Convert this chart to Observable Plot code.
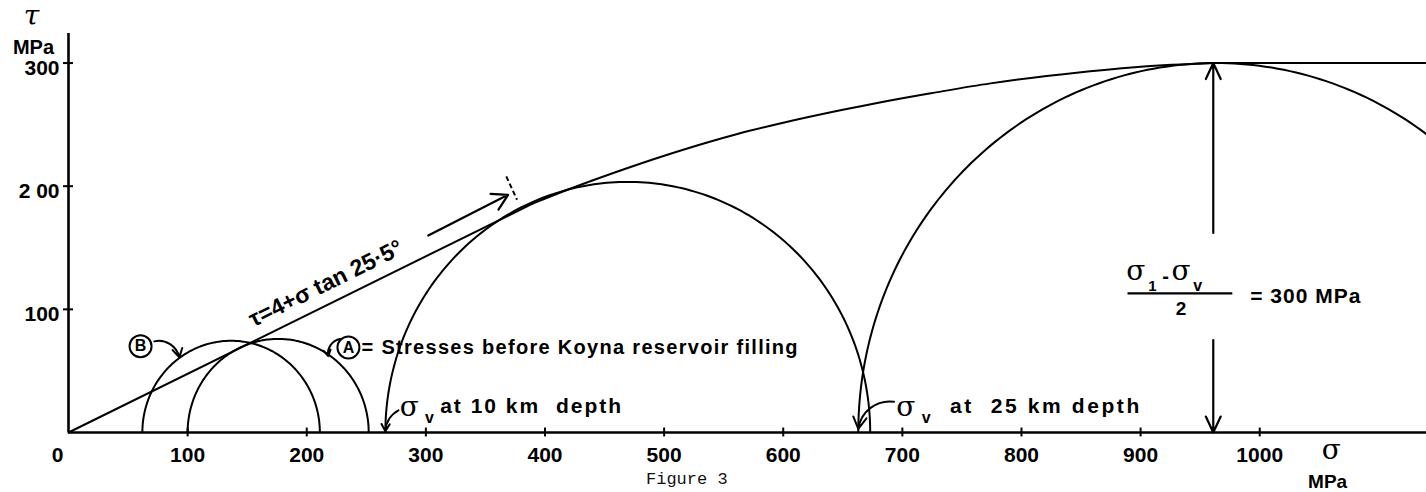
<!DOCTYPE html>
<html><head><meta charset="utf-8">
<script src="https://cdn.jsdelivr.net/npm/d3@7"></script>
<script src="https://cdn.jsdelivr.net/npm/@observablehq/plot@0.6"></script>
<style>
html,body{margin:0;padding:0;background:#fff;overflow:hidden;}
#wrap{position:relative;width:1426px;height:492px;}
#cap{position:absolute;left:646px;top:470px;font-family:"Liberation Mono","DejaVu Sans Mono",monospace;font-size:17px;line-height:20px;color:#111;white-space:nowrap;}
</style></head><body><div id="wrap"></div><script>
// Axis ticks
const xTicks = [0, 100, 200, 300, 400, 500, 600, 700, 800, 900, 1000];
const yTicks = [100, 200, 300];
const yTickLabels = ["100", "2 00", "300"];

// Mohr circles (sigma3, sigma1), MPa
const circleNames = ["B", "A", "10 km", "25 km"];
const circleSigma3 = [62, 100, 266, 663];
const circleSigma1 = [211, 252, 673, 1263];

// Failure envelope: straight part, curved part, flat part
const envLineSigma = [0, 390];
const envLineTau = [0, 186];
const envCurveSigma = [390, 420, 470, 514, 560, 600, 650, 700, 724, 774, 850, 900, 963];
const envCurveTau = [186, 197.5, 215, 229, 242, 251.5, 262, 271.5, 275.5, 283.5, 292.5, 297, 300];
const envFlatSigma = [963, 1140];
const envFlatTau = [300, 300];

// ---- build tables from the arrays ----
const circlePts = [];
circleNames.forEach((name, i) => {
  const c = (circleSigma3[i] + circleSigma1[i]) / 2, r = (circleSigma1[i] - circleSigma3[i]) / 2;
  for (let a = 0; a <= 180; a += 1) {
    const t = a * Math.PI / 180;
    circlePts.push({name, s: c + r * Math.cos(t), t: r * Math.sin(t)});
  }
});
const envLine = envLineSigma.map((s, i) => ({s, t: envLineTau[i]}));
const envCurve = envCurveSigma.map((s, i) => ({s, t: envCurveTau[i]}));
const envFlat = envFlatSigma.map((s, i) => ({s, t: envFlatTau[i]}));

const F = '"Liberation Sans", Arial, sans-serif';
const FS = '"DejaVu Serif", "Liberation Serif", serif';
const one = [0];
const txt = (text, x, y, o = {}) => Plot.text(one, {x: () => x, y: () => y, text: () => text, fontFamily: F, fontWeight: "bold", fontSize: 19, fill: "#000", ...o});
const LW = 2;

const plot = Plot.plot({
  width: 1426,
  height: 492,
  marginLeft: 68,
  marginRight: 0,
  marginTop: 33,
  marginBottom: 60,
  style: {background: "#fff", overflow: "visible"},
  x: {domain: [0, 1140], axis: null},
  y: {domain: [0, 324], axis: null},
  marks: [
    // axes lines
    Plot.ruleY([0], {stroke: "#000", strokeWidth: 2.6}),
    Plot.ruleX([0], {stroke: "#000", strokeWidth: 2.6}),
    // cross ticks
    Plot.ruleX(xTicks.filter(d => d > 0), {x: d => d, y1: -3.6, y2: 3.6, stroke: "#000", strokeWidth: 2}),
    Plot.ruleY(yTicks, {y: d => d, x1: -4.2, x2: 4.2, stroke: "#000", strokeWidth: 2}),
    // tick labels
    Plot.text(xTicks.filter(d => d > 0), {x: d => d, y: 0, dy: 23, text: d => String(d), fontFamily: F, fontWeight: "bold", fontSize: 21}),
    txt(String(xTicks[0]), 0, 0, {dx: -11, dy: 23, fontSize: 21}),
    Plot.text(yTicks, {x: 0, y: d => d, dx: -9, dy: 5, textAnchor: "end", text: (d, i) => yTickLabels[i], fontFamily: F, fontWeight: "bold", fontSize: 21}),
    // axis titles
    txt("τ", 0, 324, {dx: -37, dy: -17, fontFamily: FS, fontStyle: "italic", fontWeight: "normal", fontSize: 28}),
    txt("MPa", 0, 324, {dx: -35, dy: 14, fontSize: 20}),
    txt("σ", 1060, 0, {dy: 18, fontFamily: FS, fontWeight: "normal", fontSize: 28}),
    txt("MPa", 1057, 0, {dy: 49, fontSize: 19}),
    // Mohr circles
    Plot.line(circlePts, {x: "s", y: "t", z: "name", stroke: "#000", strokeWidth: LW, clip: true}),
    // envelope
    Plot.line(envLine, {x: "s", y: "t", stroke: "#000", strokeWidth: LW}),
    Plot.line(envCurve, {x: "s", y: "t", curve: "monotone-x", stroke: "#000", strokeWidth: LW}),
    Plot.line(envFlat, {x: "s", y: "t", stroke: "#000", strokeWidth: LW}),
    // envelope label + arrow
    txt("τ=4+σ tan 25·5°", 216, 121, {rotate: -26.2, fontSize: 23}),
    Plot.arrow(one, {x1: () => 302, y1: () => 160, x2: () => 369, y2: () => 193, stroke: "#000", strokeWidth: 2.2, headLength: 12}),
    Plot.link(one, {x1: () => 367.5, y1: () => 208, x2: () => 376.5, y2: () => 189, stroke: "#000", strokeWidth: 2, strokeDasharray: "5,3"}),
    // B label
    Plot.dot(one, {x: () => 60.5, y: () => 70, r: 11, stroke: "#000", strokeWidth: 2}),
    txt("B", 60.5, 70, {fontSize: 16}),
    Plot.arrow(one, {x1: () => 72, y1: () => 74, x2: () => 93, y2: () => 61, bend: 45, stroke: "#000", strokeWidth: 2, headLength: 8}),
    // A label
    Plot.dot(one, {x: () => 235, y: () => 69, r: 11, stroke: "#000", strokeWidth: 2}),
    txt("A", 235, 69, {fontSize: 16}),
    txt("= Stresses before Koyna reservoir filling", 246, 69, {textAnchor: "start", fontSize: 20}),
    Plot.arrow(one, {x1: () => 228, y1: () => 76, x2: () => 218, y2: () => 62, bend: -45, stroke: "#000", strokeWidth: 2, headLength: 8}),
    // sigma_v at 10 km
    txt("σ", 286, 21, {fontFamily: FS, fontWeight: "normal", fontSize: 28}),
    txt("v", 303, 12, {fontSize: 16}),
    txt("at 10 km  depth", 312, 21, {textAnchor: "start", fontSize: 21}),
    Plot.arrow(one, {x1: () => 277, y1: () => 18, x2: () => 266, y2: () => 1, bend: -30, stroke: "#000", strokeWidth: 2, headLength: 9}),
    // sigma_v at 25 km
    txt("σ", 703, 21, {fontFamily: FS, fontWeight: "normal", fontSize: 28}),
    txt("v", 720, 12, {fontSize: 16}),
    txt("at  25 km depth", 740, 21, {textAnchor: "start", fontSize: 21}),
    Plot.arrow(one, {x1: () => 693, y1: () => 25, x2: () => 663, y2: () => 3, bend: -45, stroke: "#000", strokeWidth: 2, headLength: 10}),
    // (sigma1 - sigma_v)/2 = 300 MPa
    Plot.arrow(one, {x1: () => 961, y1: () => 162, x2: () => 961, y2: () => 300, stroke: "#000", strokeWidth: 2.2, headLength: 12, headAngle: 50}),
    Plot.arrow(one, {x1: () => 961, y1: () => 75, x2: () => 961, y2: () => 0, stroke: "#000", strokeWidth: 2.2, headLength: 12, headAngle: 50}),
    txt("σ", 896, 131, {fontFamily: FS, fontWeight: "normal", fontSize: 28}),
    txt("1", 910, 119, {fontSize: 15}),
    txt("-", 921, 127, {fontSize: 20}),
    txt("σ", 934, 131, {fontFamily: FS, fontWeight: "normal", fontSize: 28}),
    txt("v", 948, 119, {fontSize: 16}),
    Plot.link(one, {x1: () => 889, y1: () => 113, x2: () => 977, y2: () => 113, stroke: "#000", strokeWidth: 2.2}),
    txt("2", 934, 100, {fontSize: 19}),
    txt("= 300 MPa", 992, 111, {textAnchor: "start", fontSize: 21})
  ]
});
// widen the typewriter-like lettering of the annotations
const spacing = new Map([
  ["= Stresses before Koyna reservoir filling", "1.3px"],
  ["at 10 km  depth", "2px"],
  ["at  25 km depth", "2.6px"],
  ["= 300 MPa", "1px"]
]);
d3.select(plot).selectAll("text").each(function () {
  const s = spacing.get(this.textContent);
  if (s) this.style.letterSpacing = s;
});
document.getElementById("wrap").appendChild(plot);
const cap = document.createElement("div");
cap.id = "cap";
cap.textContent = "Figure 3";
document.getElementById("wrap").appendChild(cap);
</script></body></html>
